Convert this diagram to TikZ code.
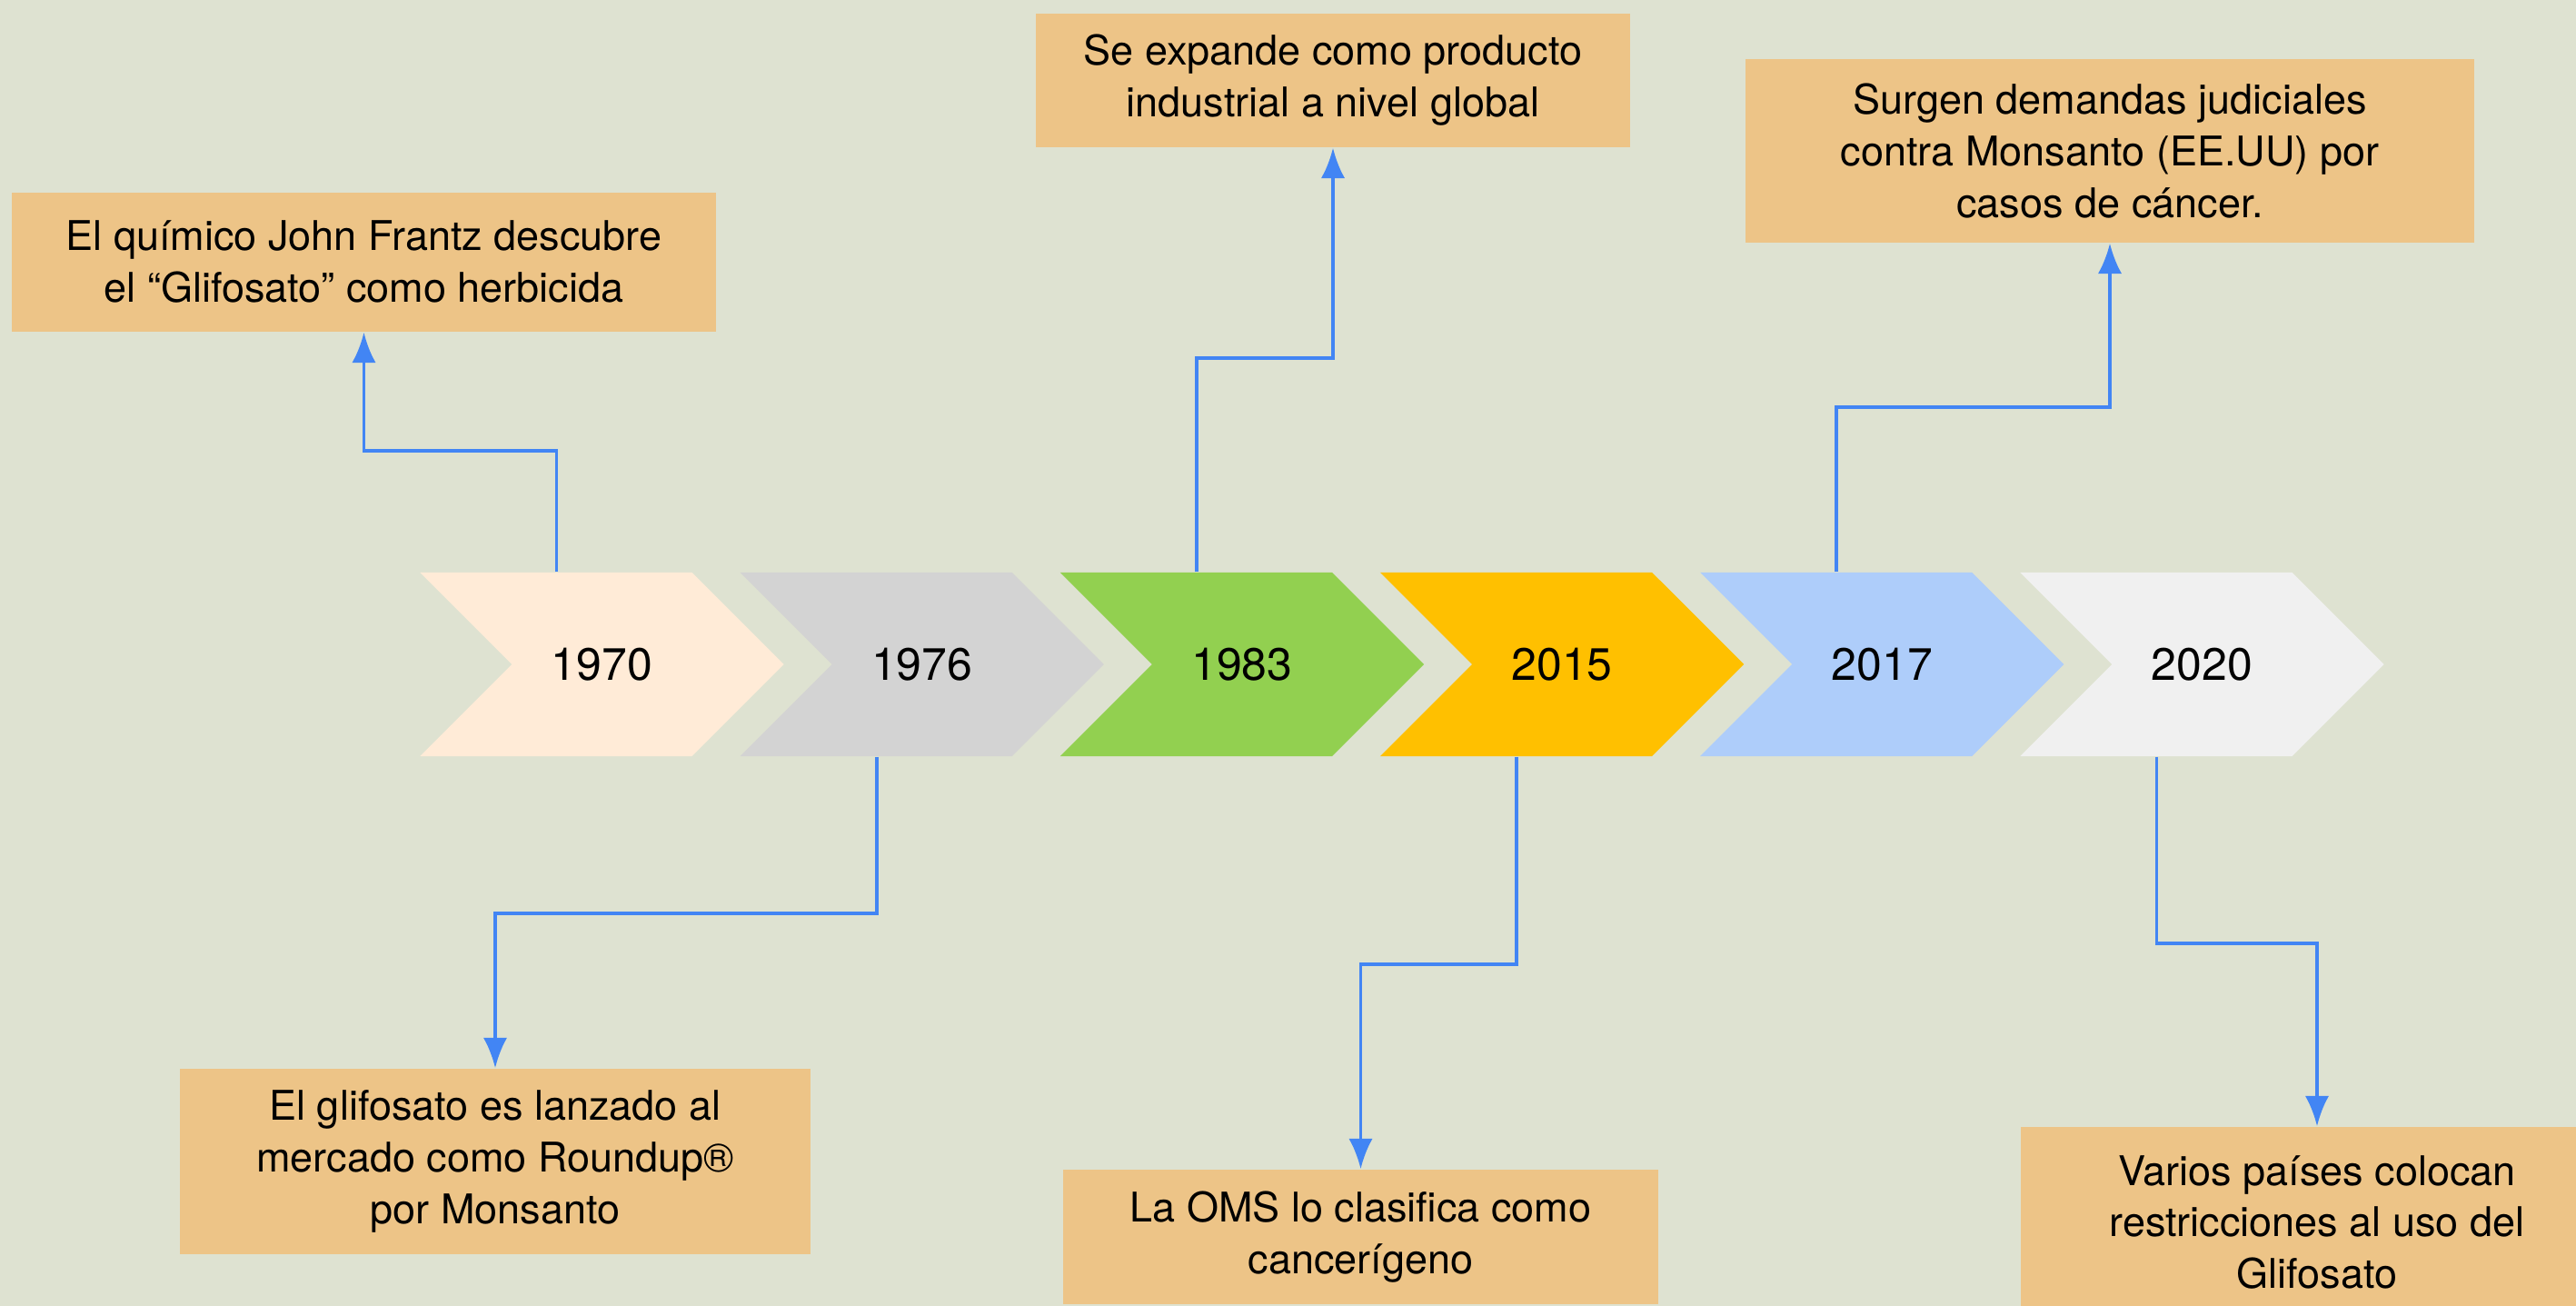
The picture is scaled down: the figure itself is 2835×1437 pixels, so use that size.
\documentclass[tikz,border=0pt]{standalone}
\usepackage{fontspec}
\setmainfont{TeX Gyre Heros}
\usetikzlibrary{shapes.symbols,arrows.meta}
\definecolor{bgcol}{RGB}{222,226,209}
\definecolor{boxcol}{RGB}{237,196,135}
\definecolor{linkcol}{RGB}{66,133,244}
\definecolor{ca}{RGB}{255,235,215}
\definecolor{cb}{RGB}{211,211,211}
\definecolor{cc}{RGB}{146,208,80}
\definecolor{cd}{RGB}{255,192,0}
\definecolor{ce}{RGB}{174,205,250}
\definecolor{cf}{RGB}{240,240,240}
\begin{document}
\begin{tikzpicture}[x=0.01cm,y=0.01cm,
  year/.style={signal, signal to=east, signal from=west, signal pointer angle=90,
    minimum width=4cm, minimum height=2.02cm, inner sep=0pt,
    font=\fontsize{14.2}{17}\selectfont},
  event/.style={rectangle, fill=boxcol, align=center, inner sep=0pt,
    font=\fontsize{12.8}{16.2}\selectfont},
  link/.style={draw=linkcol, line width=1.1pt, -{Latex[length=9.5pt,width=7.5pt]}}
  ]
  \useasboundingbox (0,0) rectangle (2835,1437);
  \clip (0,0) rectangle (2835,1437);
  \fill[bgcol] (0,0) rectangle (2835,1437);

  \foreach \yr/\col [count=\i] in {1970/ca,1976/cb,1983/cc,2015/cd,2017/ce,2020/cf}
    \node[year, fill=\col] (c\i) at ({662.5+352.2*(\i-1)},706) {\yr};

  \node[event, minimum width=7.75cm, minimum height=1.53cm] (e1) at (400.5,1148.5)
    {El químico John Frantz descubre\\el “Glifosato” como herbicida};
  \node[event, minimum width=6.94cm, minimum height=2.04cm] (e2) at (545,159)
    {El glifosato es lanzado al\\mercado como Roundup®\\por Monsanto};
  \node[event, minimum width=6.54cm, minimum height=1.47cm] (e3) at (1467,1348.5)
    {Se expande como producto\\industrial a nivel global};
  \node[event, minimum width=6.55cm, minimum height=1.48cm] (e4) at (1497.5,76)
    {La OMS lo clasifica como\\cancerígeno};
  \node[event, minimum width=8.02cm, minimum height=2.02cm] (e5) at (2322,1271)
    {Surgen demandas judiciales\\contra Monsanto (EE.UU) por\\casos de cáncer.};
  \node[event, minimum width=6.52cm, minimum height=2.1cm] (e6) at (2550,92)
    {Varios países colocan\\restricciones al uso del\\Glifosato};

  \draw[link] ([xshift=-5mm]c1.north) -- ++(0,133) -| (e1.south);
  \draw[link] ([xshift=-5mm]c2.south) -- ++(0,-172) -| (e2.north);
  \draw[link] ([xshift=-5mm]c3.north) -- ++(0,235) -| (e3.south);
  \draw[link] ([xshift=-5mm]c4.south) -- ++(0,-228) -| (e4.north);
  \draw[link] ([xshift=-5mm]c5.north) -- ++(0,181) -| (e5.south);
  \draw[link] ([xshift=-5mm]c6.south) -- ++(0,-205) -| (e6.north);
\end{tikzpicture}
\end{document}
